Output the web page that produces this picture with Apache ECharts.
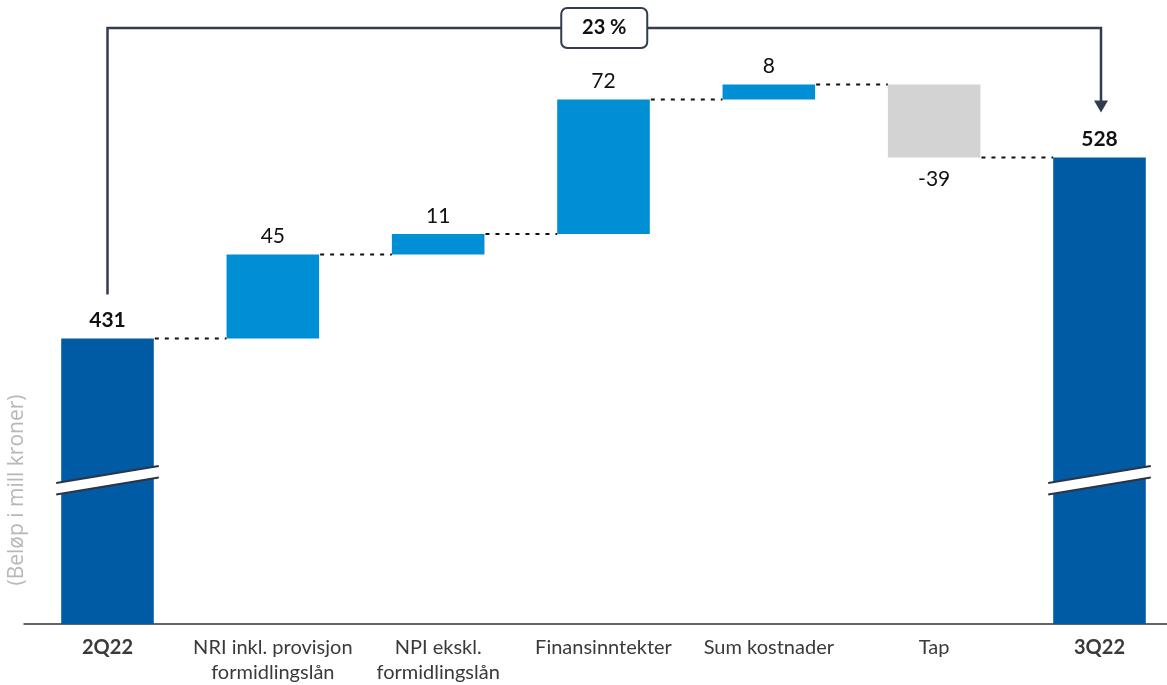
<!DOCTYPE html>
<html>
<head>
<meta charset="utf-8">
<script src="https://cdn.jsdelivr.net/npm/echarts@6/dist/echarts.min.js"></script>
<style>
  html, body { margin: 0; padding: 0; background: #fff; }
  #chart { width: 1167px; height: 685px; }
</style>
</head>
<body>
<div id="chart"></div>
<script>
// ---- data ----
const categories = ['2Q22', 'NRI inkl. provisjon\nformidlingslån', 'NPI ekskl.\nformidlingslån', 'Finansinntekter', 'Sum kostnader', 'Tap', '3Q22'];
const values = [431, 45, 11, 72, 8, -39, 528];
const kinds = ['total', 'delta', 'delta', 'delta', 'delta', 'delta', 'total'];
const axisMin = 278;
const axisMax = 600;
const breakValue = 355;
const yAxisTitle = '(Beløp i mill kroner)';

// ---- derived ----
const colors = { total: '#005ba4', up: '#008fd5', down: '#d3d3d3' };
const FONT = 'Lato';
let running = 0;
const barData = values.map((v, i) => {
  let lo, hi, level;
  if (kinds[i] === 'total') { lo = axisMin; hi = v; running = v; level = v; }
  else { lo = Math.min(running, running + v); hi = Math.max(running, running + v); running += v; level = running; }
  return [i, lo, hi, level, v];
});
const changePct = Math.round((values[6] / values[0] - 1) * 100) + ' %';

function renderBar(params, api) {
  const i = api.value(0), lo = api.value(1), hi = api.value(2), level = api.value(3), v = api.value(4);
  const kind = kinds[i];
  const band = api.size([1, 0])[0];
  const bw = band * 0.56;
  const top = api.coord([i, hi]);
  const bot = api.coord([i, lo]);
  const cx = top[0];
  const children = [];
  const fill = kind === 'total' ? colors.total : (v >= 0 ? colors.up : colors.down);
  children.push({ type: 'rect', shape: { x: cx - bw / 2, y: top[1], width: bw, height: bot[1] - top[1] }, style: { fill: fill } });
  const isTotal = kind === 'total';
  const labelY = v >= 0 ? top[1] - 18 : bot[1] + 22;
  children.push({ type: 'text', x: cx, y: labelY, style: { text: (v < 0 ? '-' : '') + Math.abs(v), align: 'center', verticalAlign: 'middle', fontFamily: FONT, fontSize: 21, fontWeight: isTotal ? 'bold' : 'normal', fill: '#111' } });
  if (i < categories.length - 1) {
    const a = api.coord([i, level]);
    const b = api.coord([i + 1, level]);
    children.push({ type: 'line', shape: { x1: a[0] + bw / 2 + 1, y1: a[1], x2: b[0] - bw / 2, y2: b[1] }, style: { stroke: '#111', lineWidth: 2, lineDash: [4, 6] } });
  }
  if (isTotal) {
    const yc = api.coord([i, breakValue])[1];
    const L = bw / 2 + 5, k = -0.165, g = 11.5;
    children.push({ type: 'polygon', shape: { points: [[cx - L, yc - g / 2 - k * L], [cx + L, yc - g / 2 + k * L], [cx + L, yc + g / 2 + k * L], [cx - L, yc + g / 2 - k * L]] }, style: { fill: '#fff' } });
    children.push({ type: 'line', shape: { x1: cx - L, y1: yc - g / 2 - k * L, x2: cx + L, y2: yc - g / 2 + k * L }, style: { stroke: '#2b3445', lineWidth: 2 } });
    children.push({ type: 'line', shape: { x1: cx - L, y1: yc + g / 2 - k * L, x2: cx + L, y2: yc + g / 2 + k * L }, style: { stroke: '#2b3445', lineWidth: 2 } });
  }
  return { type: 'group', children: children };
}

function renderBracket(params, api) {
  const p0 = api.coord([api.value(0), api.value(2)]);
  const p1 = api.coord([api.value(1), api.value(3)]);
  const topY = params.coordSys.y + 5;
  const stroke = '#323c4e';
  const x0 = p0[0], x1 = p1[0] + 1.5;
  const leftEnd = p0[1] - 44;
  const tipY = p1[1] - 45;
  const midX = (x0 + x1) / 2;
  const bwBox = 86, bhBox = 40;
  return {
    type: 'group',
    children: [
      { type: 'polyline', shape: { points: [[x0, leftEnd], [x0, topY], [x1, topY], [x1, tipY - 11]] }, style: { stroke: stroke, lineWidth: 2.5, fill: null } },
      { type: 'polygon', shape: { points: [[x1 - 7, tipY - 12], [x1 + 7, tipY - 12], [x1, tipY]] }, style: { fill: stroke } },
      { type: 'rect', shape: { x: midX - bwBox / 2, y: topY - bhBox / 2, width: bwBox, height: bhBox, r: 6 }, style: { fill: '#fff', stroke: stroke, lineWidth: 2 } },
      { type: 'text', x: midX, y: topY, style: { text: changePct, align: 'center', verticalAlign: 'middle', fontFamily: FONT, fontSize: 20, fontWeight: 'bold', fill: '#111' } }
    ]
  };
}

const chart = echarts.init(document.getElementById('chart'), null, { renderer: 'canvas' });
chart.setOption({
  animation: false,
  backgroundColor: '#fff',
  grid: [
    { left: 107.5, top: 23, right: 67.5, bottom: 61, containLabel: false },
    { left: 24, top: 23, right: 0, bottom: 61, containLabel: false }
  ],
  xAxis: [
    {
      type: 'category',
      gridIndex: 0,
      data: categories,
      boundaryGap: false,
      axisLine: { show: false },
      axisTick: { show: false },
      axisLabel: {
        interval: 0,
        margin: 11,
        lineHeight: 25,
        fontFamily: FONT,
        fontSize: 20,
        color: '#3a3a3a',
        formatter: function (val, idx) { return kinds[idx] === 'total' ? '{b|' + val + '}' : val; },
        rich: { b: { fontWeight: 'bold', fontFamily: FONT, fontSize: 20, color: '#3a3a3a', lineHeight: 25 } }
      }
    },
    {
      type: 'value',
      gridIndex: 1,
      min: 0, max: 1,
      axisLine: { show: true, onZero: false, lineStyle: { color: '#333', width: 1.5 } },
      axisTick: { show: false },
      axisLabel: { show: false },
      splitLine: { show: false }
    }
  ],
  yAxis: [
    { type: 'value', gridIndex: 0, min: axisMin, max: axisMax, show: false, splitLine: { show: false } },
    { type: 'value', gridIndex: 1, min: 0, max: 1, show: false, splitLine: { show: false } }
  ],
  graphic: [
    { type: 'text', x: 17, y: 490, rotation: Math.PI / 2, style: { text: yAxisTitle, align: 'center', verticalAlign: 'middle', fontFamily: 'Open Sans', fontSize: 21, fill: '#b8b8b8' } }
  ],
  series: [
    { type: 'custom', xAxisIndex: 0, yAxisIndex: 0, renderItem: renderBar, data: barData, clip: false, encode: { x: 0, y: [1, 2] } },
    { type: 'custom', xAxisIndex: 0, yAxisIndex: 0, renderItem: renderBracket, data: [[0, 6, values[0], values[6]]], clip: false, z: 3, encode: { x: [0, 1], y: [2, 3] } }
  ]
});
</script>
</body>
</html>
